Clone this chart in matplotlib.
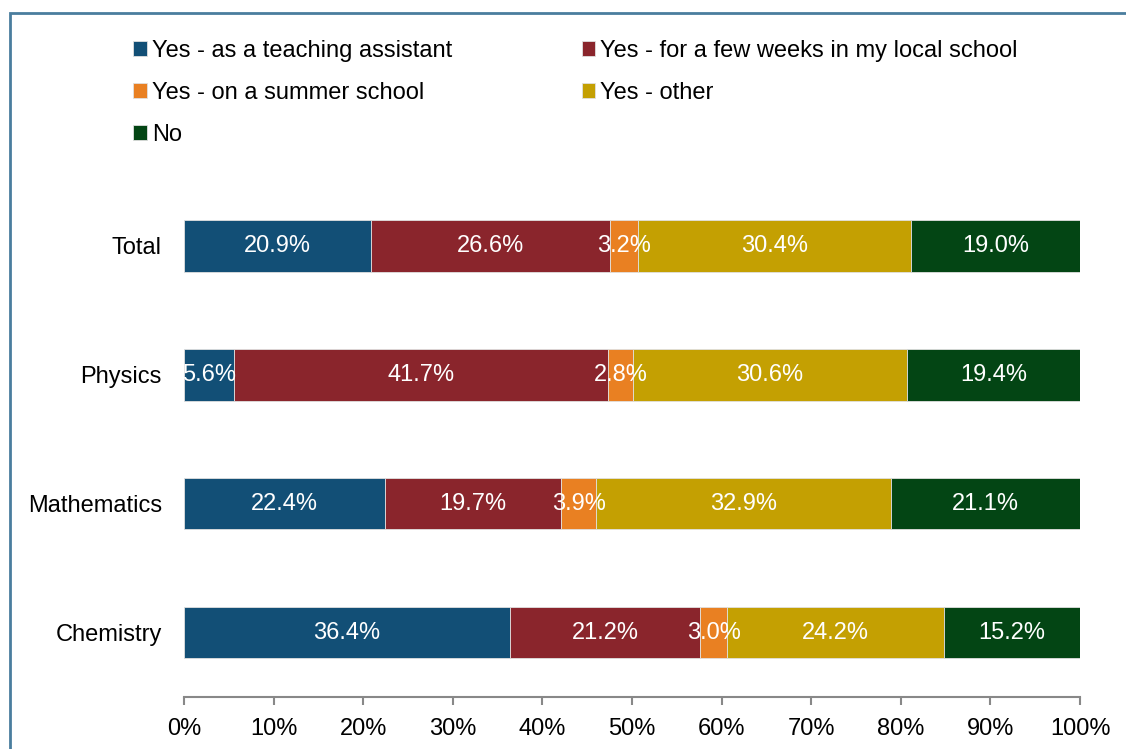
import matplotlib.pyplot as plt
import matplotlib.patches as mpatches
import numpy as np

plt.rcParams['font.family'] = ['Liberation Sans', 'DejaVu Sans']

# datos
subjects = ['Chemistry', 'Mathematics', 'Physics', 'Total']
series = ['Yes - as a teaching assistant', 'Yes - for a few weeks in my local school',
          'Yes - on a summer school', 'Yes - other', 'No']
teaching_assistant = [36.4, 22.4, 5.6, 20.9]
local_school = [21.2, 19.7, 41.7, 26.6]
summer_school = [3.0, 3.9, 2.8, 3.2]
other = [24.2, 32.9, 30.6, 30.4]
no = [15.2, 21.1, 19.4, 19.0]
colors = ['#124f76', '#8a252c', '#e98022', '#c4a002', '#034514']

values = [teaching_assistant, local_school, summer_school, other, no]
fs = 17

fig = plt.figure(figsize=(11.26, 7.49), dpi=100)
ax = fig.add_axes([184 / 1126, 1 - 697 / 749, (1080 - 184) / 1126, (697 - 181.5) / 749])

y = np.arange(len(subjects))
left = np.zeros(len(subjects))
for name, vals, c in zip(series, values, colors):
    vals = np.array(vals)
    ax.barh(y, vals, left=left, height=0.4, color=c, edgecolor='#e0e0e0',
            linewidth=0.6, label=name)
    for yi, l, v in zip(y, left, vals):
        ax.text(l + v / 2, yi, f'{v:.1f}%', ha='center', va='center',
                color='white', fontsize=fs)
    left += vals

ax.set_xlim(0, 100)
ax.set_ylim(-0.5, 3.5)
ax.set_yticks(y)
ax.set_yticklabels(subjects, fontsize=fs)
ax.set_xticks(np.arange(0, 101, 10))
ax.set_xticklabels([f'{t}%' for t in range(0, 101, 10)], fontsize=fs)
ax.tick_params(axis='y', length=0, pad=16)
ax.tick_params(axis='x', length=6, width=1.5, color='#888888', pad=9)
for s in ['top', 'right', 'left']:
    ax.spines[s].set_visible(False)
ax.spines['bottom'].set_color('#888888')
ax.spines['bottom'].set_linewidth(1.5)

# leyenda por filas (matplotlib rellena por columnas)
handles, labels = ax.get_legend_handles_labels()
order = [0, 2, 4, 1, 3]
fig.legend([handles[i] for i in order], [labels[i] for i in order], ncol=2,
           loc='upper left', bbox_to_anchor=(133 / 1126, 1 - 40 / 749),
           frameon=False, fontsize=fs, handlelength=0.58, handleheight=0.58,
           handletextpad=0.22, columnspacing=5.48, labelspacing=0.84,
           borderpad=0, borderaxespad=0)

# marco exterior
fig.patches.append(mpatches.Rectangle((10 / 1126, -0.05), 1.1, 1 - 13 / 749 + 0.05,
                                      transform=fig.transFigure, fill=False,
                                      edgecolor='#4a7d9e', linewidth=2))

fig.savefig('out.png', dpi=100)
